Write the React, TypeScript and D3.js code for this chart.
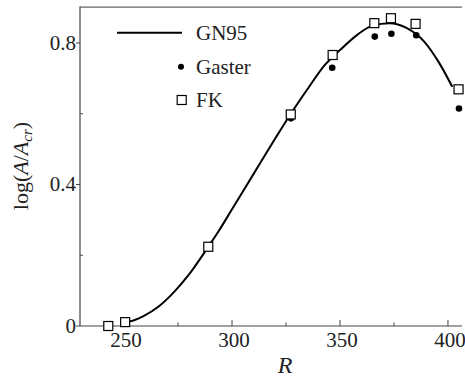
import React from "react";
import * as d3 from "d3";

const xTicksMajor = [250, 300, 350, 400];
const xTicksMinor = [275, 325, 375];
const yTicksMajor = [0, 0.4, 0.8];
const yTickLabels = ["0", "0.4", "0.8"];
const yTicksMinor = [0.2, 0.6];

// GN95 curve
const curveR = [250.5, 254, 259, 266, 273, 280, 289, 294, 300, 310, 320, 327, 335, 343, 350, 358, 365, 373, 381, 389, 396, 402];
const curveV = [0.01, 0.015, 0.028, 0.055, 0.095, 0.145, 0.224, 0.27, 0.33, 0.43, 0.53, 0.598, 0.67, 0.738, 0.78, 0.823, 0.849, 0.856, 0.842, 0.804, 0.743, 0.676];

// Gaster dots
const gasterR = [327.3, 346.4, 366.1, 373.8, 385.3, 405.1];
const gasterV = [0.587, 0.73, 0.818, 0.826, 0.822, 0.615];

// FK squares
const fkR = [242.7, 250.5, 289, 327.2, 346.6, 365.9, 373.6, 385, 404.9];
const fkV = [0, 0.011, 0.224, 0.598, 0.766, 0.856, 0.87, 0.854, 0.669];

const legendLabels = ["GN95", "Gaster", "FK"];

export default function App() {
  const W = 465, H = 378;
  const left = 80, right = 462, top = 7.6, bottom = 326;
  const x = d3.scaleLinear().domain([229.6, 406.5]).range([left, right]);
  const y = d3.scaleLinear().domain([0, 0.9]).range([bottom, top]);
  const line = d3
    .line<number>()
    .x((_, i) => x(curveR[i]))
    .y((d) => y(d))
    .curve(d3.curveMonotoneX);
  const font = '"Liberation Serif", Tinos, "Nimbus Roman", FreeSerif, "DejaVu Serif", serif';
  const ts = { fontFamily: font } as React.CSSProperties;
  const axisColor = "#444";
  const sq = 9;

  return (
    <svg width={W} height={H} style={{ position: "absolute", left: 0, top: 0, background: "#fff", fontFamily: font }}>
      <rect x={0} y={0} width={W} height={H} fill="#fff" />
      {/* frame */}
      <line x1={left} y1={top - 0.5} x2={right} y2={top - 0.5} stroke="#666" strokeWidth={1.2} />
      <line x1={left} y1={top - 1} x2={left} y2={bottom} stroke={axisColor} strokeWidth={1.2} />
      <line x1={left} y1={bottom} x2={right} y2={bottom} stroke={axisColor} strokeWidth={1.2} />
      {/* x ticks */}
      {xTicksMajor.map((t) => (
        <g key={"xm" + t}>
          <line x1={x(t)} x2={x(t)} y1={bottom} y2={bottom - 6} stroke={axisColor} strokeWidth={1} />
          <text x={x(t) + 2} y={346.5} fontSize={21} textAnchor="middle" fill="#222" style={ts}>
            {t}
          </text>
        </g>
      ))}
      {xTicksMinor.map((t) => (
        <line key={"xn" + t} x1={x(t)} x2={x(t)} y1={bottom} y2={bottom - 3.5} stroke={axisColor} strokeWidth={1} />
      ))}
      {/* y ticks */}
      {yTicksMajor.map((t, i) => (
        <g key={"ym" + t}>
          <line x1={left - 4} x2={left} y1={y(t)} y2={y(t)} stroke={axisColor} strokeWidth={1} />
          <text x={76} y={y(t)} dy="0.33em" fontSize={21} textAnchor="end" fill="#222" style={ts}>
            {yTickLabels[i]}
          </text>
        </g>
      ))}
      {yTicksMinor.map((t) => (
        <line key={"yn" + t} x1={left} x2={left + 3} y1={y(t)} y2={y(t)} stroke={axisColor} strokeWidth={1} />
      ))}
      {/* axis titles */}
      <text x={285} y={373} fontSize={24} fontStyle="italic" textAnchor="middle" fill="#222" style={ts}>
        R
      </text>
      <text transform={`translate(28,166) rotate(-90)`} fontSize={22} textAnchor="middle" fill="#222" style={ts}>
        <tspan>log(</tspan>
        <tspan fontStyle="italic">A</tspan>
        <tspan>/</tspan>
        <tspan fontStyle="italic">A</tspan>
        <tspan fontStyle="italic" fontSize={15} dy={4}>cr</tspan>
        <tspan dy={-4}>)</tspan>
      </text>
      {/* Gaster dots */}
      {gasterV.map((v, i) => (
        <circle key={"g" + i} cx={x(gasterR[i])} cy={y(v)} r={3.3} fill="#000" />
      ))}
      {/* GN95 curve */}
      <path d={line(curveV) || ""} fill="none" stroke="#000" strokeWidth={2} />
      {/* FK squares */}
      {fkV.map((v, i) => (
        <rect
          key={"f" + i}
          x={x(fkR[i]) - sq / 2}
          y={y(v) - sq / 2}
          width={sq}
          height={sq}
          fill="#fff"
          stroke="#000"
          strokeWidth={1.2}
        />
      ))}
      {/* legend */}
      <line x1={117} x2={182} y1={32.7} y2={32.7} stroke="#000" strokeWidth={2} />
      <text x={196} y={33} dy="0.35em" fontSize={21} fill="#222" style={ts}>{legendLabels[0]}</text>
      <circle cx={181} cy={66.7} r={3} fill="#000" />
      <text x={196} y={66.5} dy="0.35em" fontSize={21} fill="#222" style={ts}>{legendLabels[1]}</text>
      <rect x={181.7 - 4.5} y={100 - 4.5} width={9} height={9} fill="#fff" stroke="#000" strokeWidth={1.2} />
      <text x={196} y={100} dy="0.35em" fontSize={21} fill="#222" style={ts}>{legendLabels[2]}</text>
    </svg>
  );
}
